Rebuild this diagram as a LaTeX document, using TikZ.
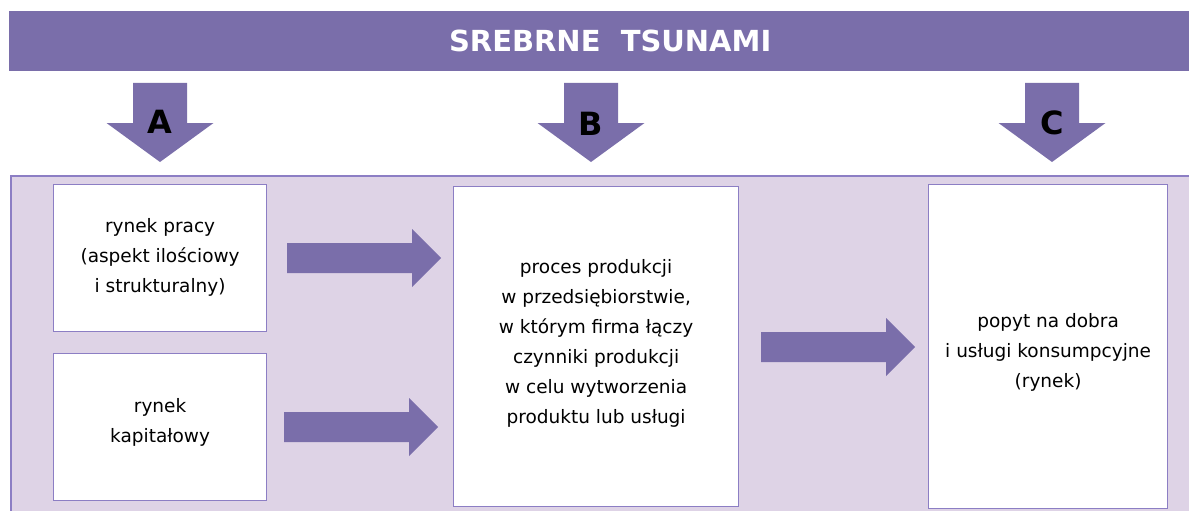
\documentclass[tikz,border=0pt]{standalone}
\usepackage{fontspec}
\setmainfont{DejaVu Sans}
\usetikzlibrary{positioning}
\definecolor{violetbar}{RGB}{122,110,170}
\definecolor{lilacbg}{RGB}{222,211,230}
\definecolor{lilacline}{RGB}{140,126,196}

\tikzset{
  downarr/.pic={\fill[violetbar] (-27,0) -- (27,0) -- (27,40) -- (53.5,40)
                  -- (0,79) -- (-53.5,40) -- (-27,40) -- cycle;},
  rightarr/.pic={\fill[violetbar] (0,-15) -- (125,-15) -- (125,-29) -- (154,0)
                  -- (125,29) -- (125,15) -- (0,15) -- cycle;}
}

\begin{document}
\begin{tikzpicture}[
      x=1pt, y=-1pt,
      box/.style={draw=lilacline, line width=1.2pt, fill=white, anchor=north west,
                  inner sep=0pt},
      txt/.style={align=center, inner sep=0pt, font=\fontsize{18.5}{30}\selectfont},
      letter/.style={font=\bfseries\fontsize{32}{32}\selectfont, inner sep=0pt}
  ]
    \useasboundingbox (0,0) rectangle (1189,511);
    \clip (0,0) rectangle (1189,511);

    \node[fill=violetbar, anchor=north west, minimum width=1202pt, minimum height=60pt,
          inner sep=0pt, text=white, font=\bfseries\fontsize{29}{29}\selectfont]
      (banner) at (9,11) {SREBRNE\ \ TSUNAMI};

    \node[draw=lilacline, line width=2pt, fill=lilacbg, anchor=north west,
          minimum width=1200pt, minimum height=350pt, inner sep=0pt]
      (panel) at (10,175) {};

    \node[box, minimum width=213pt, minimum height=147pt] (praca) at (53,184) {};
    \node[box, minimum width=213pt, minimum height=147pt] (kapital) at (53,353) {};
    \node[box, minimum width=285pt, minimum height=320pt] (produkcja) at (453,186) {};
    \node[box, minimum width=239pt, minimum height=324pt] (popyt) at (928,184) {};

    \node[txt, yshift=1pt] (pracaT) at (praca.center)
      {rynek pracy\\(aspekt ilościowy\\i strukturalny)};
    \node[txt, yshift=5pt] (kapitalT) at (kapital.center)
      {rynek\\kapitałowy};
    \node[txt, yshift=3pt] (produkcjaT) at (produkcja.center)
      {proces produkcji\\w przedsiębiorstwie,\\w którym firma łączy\\czynniki produkcji\\w celu wytworzenia\\produktu lub usługi};
    \node[txt, yshift=-6pt] (popytT) at (popyt.center)
      {popyt na dobra\\i usługi konsumpcyjne\\(rynek)};

    % strzalki w dol
    \pic at (160,83) {downarr};
    \pic at (591,83) {downarr};
    \pic at (1052,83) {downarr};
    \node[letter] (labA) at (160,122) {A};
    \node[letter] (labB) at (591,124) {B};
    \node[letter] (labC) at (1052,123) {C};

    % strzalki w prawo
    \pic at (287,258) {rightarr};
    \pic at (284,427) {rightarr};
    \pic at (761,347) {rightarr};
  \end{tikzpicture}
\end{document}
